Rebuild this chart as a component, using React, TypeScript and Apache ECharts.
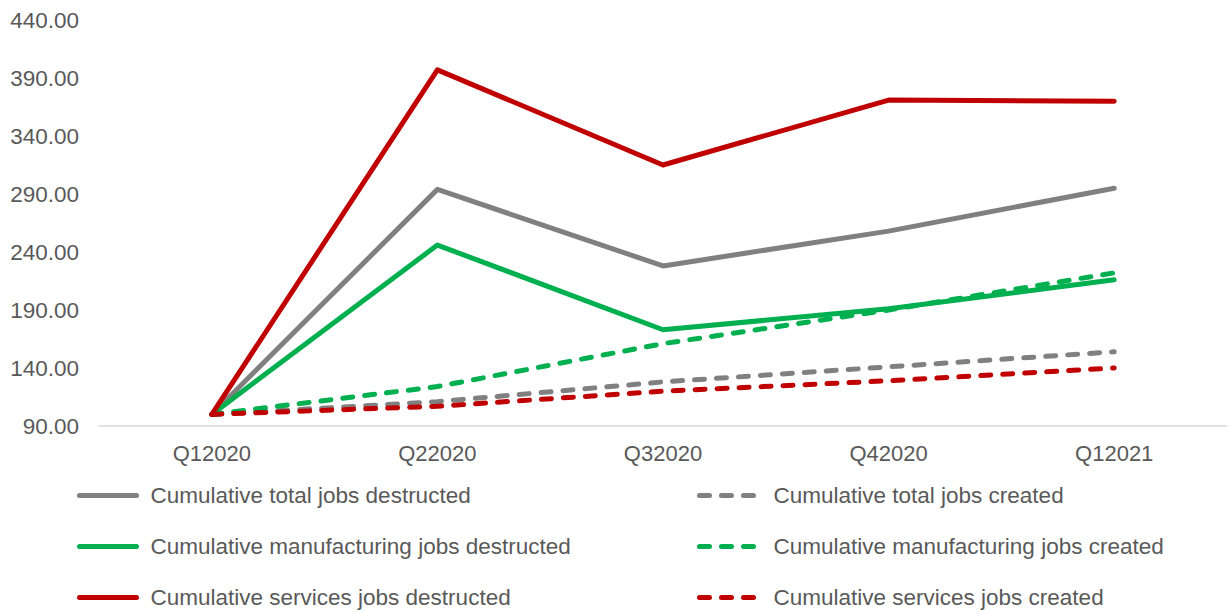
import React, { useEffect, useRef } from "react";
import * as echarts from "echarts";

const categories = ["Q12020", "Q22020", "Q32020", "Q42020", "Q12021"];

const totalDestructed = [100, 294, 228, 258, 295];
const totalCreated = [100, 111, 128, 141, 154];
const mfgDestructed = [100, 246, 173, 191, 216];
const mfgCreated = [100, 124, 161, 190, 222];
const servDestructed = [100, 397, 315, 371, 370];
const servCreated = [100, 107, 120, 129, 140];

const seriesNames = {
  totalDestructed: "Cumulative total jobs destructed",
  totalCreated: "Cumulative total jobs created",
  mfgDestructed: "Cumulative manufacturing jobs destructed",
  mfgCreated: "Cumulative manufacturing jobs created",
  servDestructed: "Cumulative services jobs destructed",
  servCreated: "Cumulative services jobs created",
};

const GREY = "#808080";
const GREEN = "#00B050";
const RED = "#C00000";
const TEXT = "#595959";
const FONT = "'Liberation Sans', Arial, sans-serif";

function lineSeries(name: string, data: number[], color: string, dashed: boolean) {
  return {
    name,
    type: "line",
    data,
    symbol: "none",
    showSymbol: false,
    color,
    lineStyle: {
      color,
      width: 5,
      type: dashed ? [10, 12] : "solid",
      cap: "round",
      join: "round",
    },
  };
}

export default function App() {
  const ref = useRef<HTMLDivElement>(null);

  useEffect(() => {
    if (!ref.current) return;
    const chart = echarts.init(ref.current, null, { renderer: "svg" });
    const legendBase = (left: number, pad: number, data: string[]) => ({
      orient: "vertical",
      left,
      top: 484,
      height: 128,
      padding: 0,
      itemWidth: 57,
      itemHeight: 22,
      itemGap: 28,
      data,
      itemStyle: { opacity: 0 },
      lineStyle: { width: 5, cap: "round" },
      textStyle: {
        color: TEXT,
        fontSize: 22.5,
        fontFamily: FONT,
        lineHeight: 22,
        padding: [0, 0, 0, pad],
      },
    });
    chart.setOption({
      animation: false,
      backgroundColor: "#ffffff",
      grid: { left: 99, right: 0, top: 20, bottom: 186, containLabel: false },
      xAxis: {
        type: "category",
        data: categories,
        boundaryGap: true,
        axisLine: { show: true, lineStyle: { color: "#D9D9D9", width: 1.5 } },
        axisTick: { show: false },
        axisLabel: { color: TEXT, fontSize: 22, fontFamily: FONT, margin: 16 },
        splitLine: { show: false },
      },
      yAxis: {
        type: "value",
        min: 90,
        max: 440,
        interval: 50,
        axisLine: { show: false },
        axisTick: { show: false },
        splitLine: { show: false },
        axisLabel: {
          color: TEXT,
          fontSize: 22.5,
          fontFamily: FONT,
          margin: 20,
          formatter: (v: number) => v.toFixed(2),
        },
      },
      legend: [
        legendBase(77, 9, [
          seriesNames.totalDestructed,
          seriesNames.mfgDestructed,
          seriesNames.servDestructed,
        ]),
        legendBase(697, 12, [
          seriesNames.totalCreated,
          seriesNames.mfgCreated,
          seriesNames.servCreated,
        ]),
      ],
      series: [
        lineSeries(seriesNames.totalDestructed, totalDestructed, GREY, false),
        lineSeries(seriesNames.totalCreated, totalCreated, GREY, true),
        lineSeries(seriesNames.mfgDestructed, mfgDestructed, GREEN, false),
        lineSeries(seriesNames.mfgCreated, mfgCreated, GREEN, true),
        lineSeries(seriesNames.servDestructed, servDestructed, RED, false),
        lineSeries(seriesNames.servCreated, servCreated, RED, true),
      ],
    });
    return () => chart.dispose();
  }, []);

  return (
    <div
      ref={ref}
      style={{ position: "fixed", left: 0, top: 0, width: 1227, height: 612, background: "#fff" }}
    />
  );
}
